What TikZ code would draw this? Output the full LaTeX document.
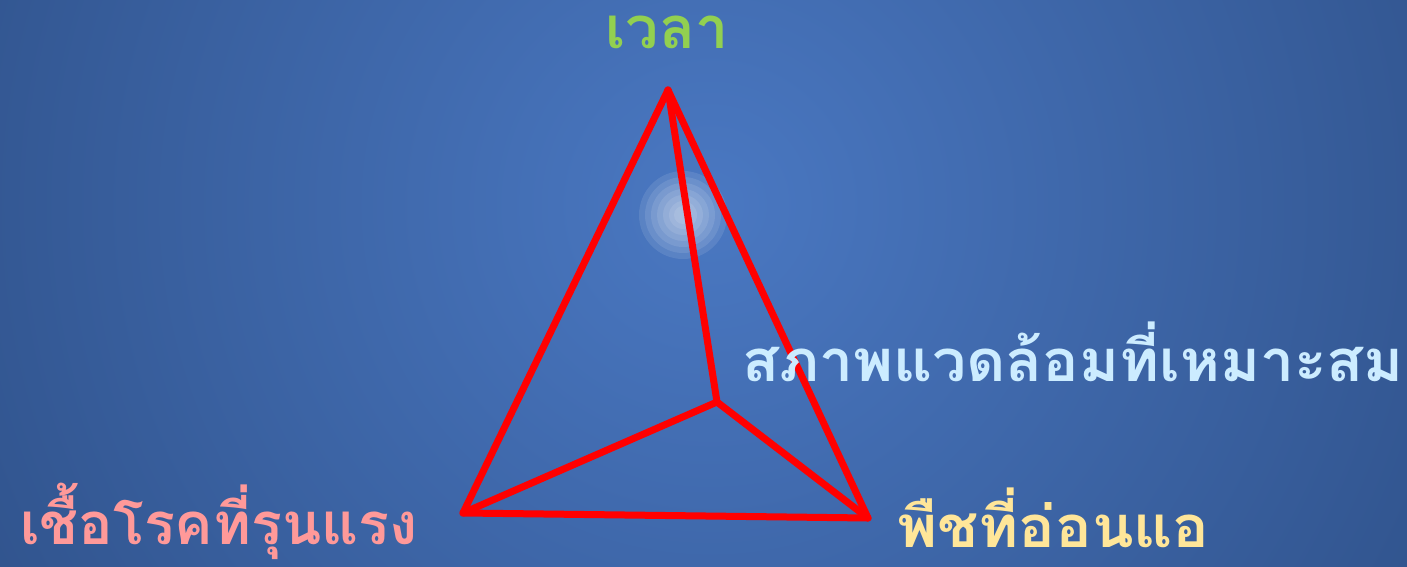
\documentclass[tikz,border=0pt]{standalone}
\usepackage{fontspec}
\usepackage{graphicx}
\newfontfamily\thaifont[Script=Thai]{Loma}
\definecolor{bgin}{RGB}{74,120,194}
\definecolor{bgout}{RGB}{46,80,136}
\definecolor{tgreen}{RGB}{146,208,80}
\definecolor{tblue}{RGB}{204,236,255}
\definecolor{tpink}{RGB}{255,153,153}
\definecolor{tyellow}{RGB}{255,230,153}
\begin{document}
\begin{tikzpicture}[x=1pt,y=-1pt,
  edge/.style={draw=red,line width=7pt,line join=round,line cap=round},
  lbl/.style={font=\thaifont\bfseries\fontsize{58}{60}\selectfont,inner sep=0pt}]
\useasboundingbox (0,0) rectangle (1407,567);
\begin{scope}
\clip (0,0) rectangle (1407,567);
\shade[inner color=bgin,outer color=bgout] (710,205) circle (900);
\end{scope}
% glow
\foreach \r in {44,38,32,26,20,14,9}
  \fill[white,fill opacity=0.1] (683,215) circle (\r);
% vertices
\coordinate (A) at (668,90);
\coordinate (I) at (717,402);
\coordinate (L) at (463,513);
\coordinate (R) at (868,518);
\draw[edge] (A) -- (L);
\draw[edge] (A) -- (R);
\draw[edge] (A) -- (I);
\draw[edge] (I) -- (L);
\draw[edge] (I) -- (R);
\draw[edge] (L) -- (R);
% labels
\node[lbl,text=tgreen,anchor=base] (t) at (667,49) {\scalebox{1.02}[1]{เวลา}};
\node[lbl,text=tblue,anchor=base west] (e) at (742,381) {\scalebox{1.046}[1]{สภาพแวดล้อมที่เหมาะสม}};
\node[lbl,text=tpink,anchor=base west] (p) at (20,544) {\scalebox{0.99}[1]{เชื้อโรคที่รุนแรง}};
\node[lbl,text=tyellow,anchor=base west] (h) at (897,547) {\scalebox{1.05}[1]{พืชที่อ่อนแอ}};
\end{tikzpicture}
\end{document}
